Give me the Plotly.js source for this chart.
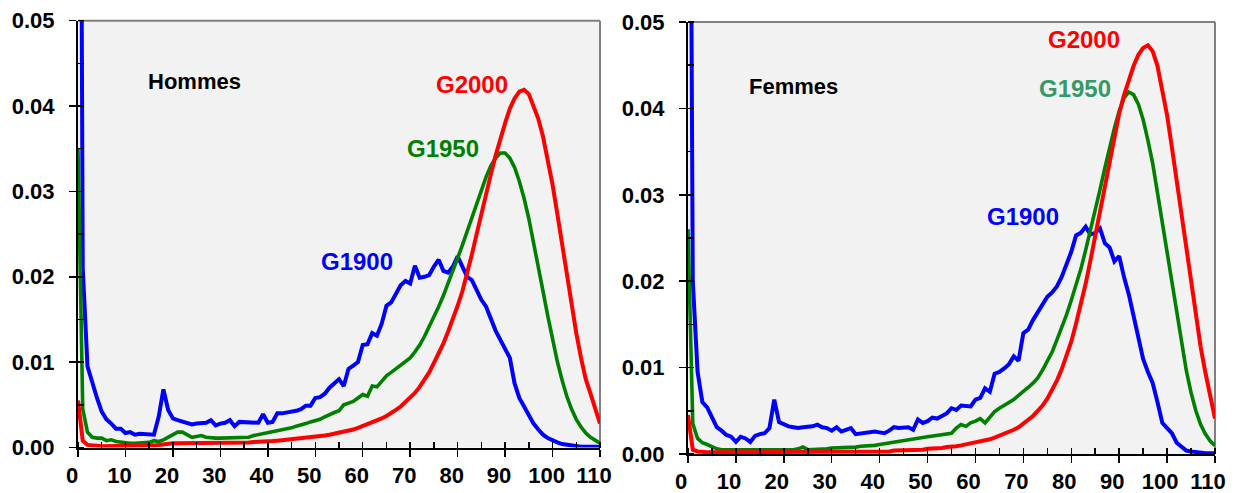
<!DOCTYPE html>
<html>
<head>
<meta charset="utf-8">
<script src="https://cdn.plot.ly/plotly-3.0.1.min.js"></script>
<style>html,body{margin:0;padding:0;background:#fff;}#chart{width:1235px;height:493px;}</style>
</head>
<body>
<div id="chart"></div>
<script>
const ages = Array.from({length: 111}, (_, i) => i);

const hommesG1900 = [
.16,.021,.0095,.0075,.0058,.0042,.0033,.0028,.0022,.0022,
.0017,.0018,.0015,.0016,.0016,.0016,.0015,.0036,.0068,.0044,
.0034,.0032,.003,.0028,.0027,.0028,.0028,.0029,.0032,.0026,
.0028,.0029,.0032,.0025,.003,.003,.003,.003,.0029,.0039,
.0029,.003,.004,.004,.0041,.0041,.0043,.0045,.0049,.0049,
.0058,.0059,.0063,.007,.0075,.008,.0072,.0092,.0096,.01,
.012,.0121,.0134,.0131,.0145,.0166,.017,.018,.019,.0195,
.0192,.0213,.0199,.02,.0202,.0212,.022,.0207,.0205,.0212,
.0224,.0212,.02,.0196,.0185,.0173,.0165,.015,.0137,.0126,
.0115,.0105,.0075,.0058,.0048,.0037,.0028,.0021,.0015,.0011,
.0008,.0006,.0004,.0003,.0002,.0002,.0001,.0001,.0001,.0001,
.0001];

const hommesG1950 = [
.035,.0045,.0018,.0012,.0011,.0011,.0008,.0009,.0007,.0006,
.0005,.0005,.0005,.0005,.0006,.0006,.0008,.0007,.0009,.0012,
.0016,.0018,.0018,.0015,.0012,.0013,.0014,.0012,.0011,.0011,
.0011,.0011,.0011,.0011,.0012,.0012,.0012,.0014,.0015,.0016,
.0017,.0019,.002,.0021,.0022,.0023,.0025,.0026,.0028,.003,
.0031,.0033,.0036,.0039,.0041,.0043,.005,.0052,.0054,.0058,
.0062,.006,.0072,.0071,.0078,.0084,.0088,.0092,.0096,.01,
.0105,.0112,.012,.013,.0141,.0152,.0165,.0178,.0192,.0206,
.0222,.0237,.0253,.027,.0286,.0302,.0317,.033,.0339,.0345,
.0345,.0339,.0328,.0312,.0292,.0268,.0241,.0212,.0183,.0154,
.0126,.0101,.0079,.006,.0045,.0033,.0024,.0017,.0012,.0008,
.0005];

const hommesG2000 = [
.0055,.0008,.0003,.0002,.0002,.00015,.00015,.00015,.00015,.00015,
.00015,.00015,.00015,.00015,.0002,.0002,.00025,.0003,.0004,.00045,
.0005,.0005,.0005,.0005,.0005,.0005,.0005,.0005,.0005,.0005,
.0005,.00055,.00055,.00055,.0006,.0006,.0006,.00065,.00065,.0007,
.0007,.00075,.0008,.00085,.0009,.00095,.001,.00105,.0011,.00115,
.0012,.0013,.0014,.0015,.0016,.0017,.0018,.002,.0021,.0023,
.0025,.0027,.0029,.0031,.0034,.0037,.004,.0044,.0048,.0053,
.0058,.0064,.0071,.0079,.0088,.0099,.011,.0122,.0136,.015,
.0166,.0183,.0203,.0226,.025,.0275,.0298,.032,.0342,.0362,
.038,.0397,.0409,.0417,.0419,.0414,.0401,.0385,.0364,.0338,
.0308,.0274,.0238,.0201,.0166,.0134,.0105,.008,.0063,.0045,
.0028];

const femmesG1900 = [
.13,.02,.0095,.006,.0054,.0042,.0031,.0027,.0022,.002,
.0014,.002,.0018,.0014,.0021,.0023,.0024,.003,.0063,.0037,
.0034,.0032,.0031,.003,.0031,.0031,.0032,.0034,.0031,.003,
.0027,.0031,.0026,.0028,.003,.0023,.0024,.0025,.0025,.0026,
.0025,.0024,.0027,.0031,.003,.0031,.0031,.0028,.004,.0036,
.0038,.0042,.0041,.0044,.0047,.0053,.0051,.0056,.0055,.0055,
.0063,.0065,.0076,.0072,.0093,.0095,.0099,.0104,.0113,.0108,
.014,.0144,.0155,.0164,.0174,.0182,.0187,.0194,.0205,.022,
.0234,.0253,.0256,.0263,.0254,.0256,.0261,.0244,.0239,.0223,
.0229,.0205,.0185,.016,.0135,.011,.0095,.0082,.006,.0036,
.003,.0024,.0013,.0008,.0004,.0003,.0002,.0001,.0001,.0001,
.0001];

const femmesG1950 = [
.026,.0035,.0018,.0013,.0011,.0008,.0006,.0005,.0005,.0004,
.0004,.0004,.0004,.0004,.0004,.0004,.0004,.0005,.0005,.0005,
.0005,.0005,.0005,.0006,.0008,.0005,.0005,.0005,.0006,.0006,
.0007,.0007,.0007,.0008,.0008,.0008,.0009,.0009,.001,.001,
.0011,.0012,.0012,.0013,.0014,.0015,.0016,.0017,.0018,.0019,
.002,.0021,.0022,.0023,.0024,.0024,.003,.0034,.0032,.0036,
.0038,.0041,.0036,.0043,.0049,.0053,.0056,.006,.0063,.0068,
.0072,.0077,.0082,.0088,.0097,.0107,.0118,.0132,.0146,.0161,
.0178,.0196,.0214,.0236,.0258,.0282,.0306,.0331,.0355,.0377,
.0397,.0412,.0419,.0416,.0405,.0387,.0363,.0336,.0302,.0268,
.0232,.0196,.0161,.0127,.0097,.0071,.005,.0034,.0023,.0015,
.001];

const femmesG2000 = [
.0045,.0005,.0003,.0002,.0002,.0002,.0002,.0002,.0002,.0002,
.0002,.0002,.0002,.0002,.0002,.0002,.0002,.0002,.0002,.0002,
.0002,.0002,.0002,.0002,.0002,.0002,.0002,.0002,.0002,.0002,
.0002,.0002,.0002,.0002,.0002,.0002,.0003,.0003,.0003,.0003,
.0003,.0003,.0003,.0004,.0004,.0004,.0004,.0005,.0005,.0005,
.0006,.0006,.0007,.0007,.0008,.0008,.0009,.001,.0011,.0012,
.0013,.0014,.0015,.0017,.0019,.0021,.0023,.0025,.0028,.0031,
.0035,.0039,.0044,.005,.0056,.0064,.0074,.0085,.0098,.0113,
.013,.0151,.0173,.0197,.0224,.0252,.0282,.0312,.0341,.0369,
.0394,.0415,.0433,.0449,.0462,.047,.0473,.0466,.0449,.0423,
.0392,.0355,.0316,.0282,.024,.0198,.0158,.0124,.0094,.0066,
.0041];

const seriesNames = ['G1900', 'G1950', 'G2000'];
const panelTitles = ['Hommes', 'Femmes'];
const xTickVals = [0,10,20,30,40,50,60,70,80,90,100,110];
const yTickVals = [0,0.01,0.02,0.03,0.04,0.05];

const W = 1235, H = 493;
const FONT = 'Liberation Sans, Arial, sans-serif';
const BLUE = '#0000ff', GREEN = '#008000', RED = '#ff0000';

function trace(y, color, xa, ya, w) {
  return {x: ages, y: y, type: 'scatter', mode: 'lines', xaxis: xa, yaxis: ya,
    line: {color: color, width: w}, hoverinfo: 'skip', showlegend: false};
}

const data = [
  trace(hommesG1900, BLUE, 'x', 'y', 4),
  trace(hommesG1950, GREEN, 'x', 'y', 3.6),
  trace(hommesG2000, RED, 'x', 'y', 4),
  trace(femmesG1900, BLUE, 'x2', 'y2', 4),
  trace(femmesG1950, GREEN, 'x2', 'y2', 3.6),
  trace(femmesG2000, RED, 'x2', 'y2', 4)
];

function xAxis(domain, anchor, shift) {
  return {
    domain: domain, anchor: anchor, range: [0, 110], fixedrange: true,
    tickvals: xTickVals, ticktext: xTickVals.map(String),
    showgrid: false, zeroline: false, showline: true, linecolor: '#000', linewidth: 2,
    ticks: 'outside', ticklen: 7, tickwidth: 1.5, tickcolor: '#000',
    minor: {ticks: 'inside', dtick: 5, tick0: 0, ticklen: 6, tickwidth: 1.5, tickcolor: '#000', showgrid: false},
    ticklabelshift: shift, ticklabelstandoff: 0,
    tickfont: {family: FONT, size: 22, color: '#000', weight: 'bold'}
  };
}
function yAxis(domain, anchor) {
  return {
    domain: domain, anchor: anchor, range: [0, 0.05], fixedrange: true,
    tickvals: yTickVals, tickformat: '.2f',
    showgrid: false, zeroline: false, showline: true, linecolor: '#000', linewidth: 2,
    ticks: 'outside', ticklen: 7, tickwidth: 1.5, tickcolor: '#000',
    minor: {ticks: 'inside', dtick: 0.005, tick0: 0, ticklen: 6, tickwidth: 1.5, tickcolor: '#000', showgrid: false},
    ticklabelstandoff: 10,
    tickfont: {family: FONT, size: 22, color: '#000', weight: 'bold'}
  };
}

const L = {x0: 78, x1: 600, yt: 20.7, yb: 447.5};
const R = {x0: 688, x1: 1215, yt: 22, yb: 454};

function px(x) { return x / W; }
function py(y) { return 1 - y / H; }

function ann(text, x, y, color, size) {
  return {text: text, xref: 'paper', yref: 'paper', x: px(x), y: py(y + 1.5),
    xanchor: 'center', yanchor: 'middle', showarrow: false,
    font: {family: FONT, size: size, color: color, weight: 'bold'}};
}

function border(xr, yr) {
  return [
    {type: 'line', xref: xr + ' domain', yref: yr + ' domain', x0: 0, x1: 1, y0: 1, y1: 1,
      line: {color: '#808080', width: 2}, layer: 'below'},
    {type: 'line', xref: xr + ' domain', yref: yr + ' domain', x0: 1, x1: 1, y0: 0, y1: 1,
      line: {color: '#808080', width: 2}, layer: 'below'}
  ];
}

const layout = {
  width: W, height: H,
  margin: {l: 0, r: 0, t: 0, b: 0},
  paper_bgcolor: '#ffffff', plot_bgcolor: '#f2f2f2',
  showlegend: false,
  xaxis: xAxis([px(L.x0), px(L.x1)], 'y', -6),
  yaxis: yAxis([py(L.yb), py(L.yt)], 'x'),
  xaxis2: xAxis([px(R.x0), px(R.x1)], 'y2', -7),
  yaxis2: yAxis([py(R.yb), py(R.yt)], 'x2'),
  shapes: border('x', 'y').concat(border('x2', 'y2')),
  annotations: [
    ann(panelTitles[0], 194, 80, '#000', 22),
    ann(seriesNames[2], 472, 82.5, RED, 24),
    ann(seriesNames[1], 442.5, 146.5, GREEN, 24),
    ann(seriesNames[0], 357.3, 260, BLUE, 24),
    ann(panelTitles[1], 793.3, 85, '#000', 22),
    ann(seriesNames[2], 1084, 38.3, RED, 24),
    ann(seriesNames[1], 1074.5, 87, '#339966', 24),
    ann(seriesNames[0], 1023, 215.3, BLUE, 24)
  ]
};

Plotly.newPlot('chart', data, layout, {displayModeBar: false, staticPlot: true});
</script>
</body>
</html>
